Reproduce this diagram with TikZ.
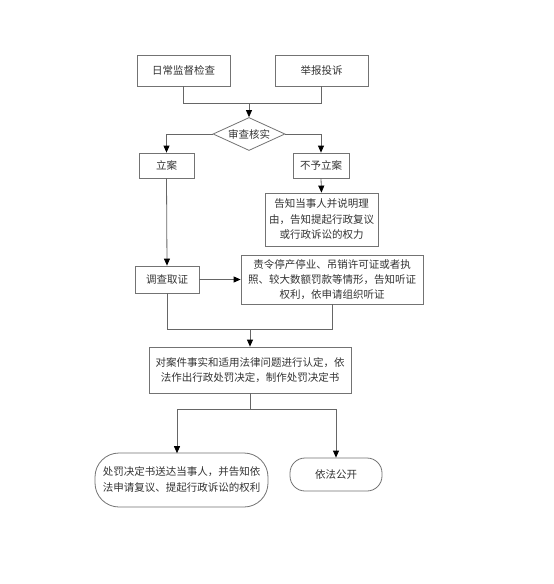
\documentclass[tikz,border=0pt]{standalone}
\usepackage{fontspec}
\newfontfamily\cjk{Noto Sans CJK SC}
\usetikzlibrary{shapes.geometric,arrows.meta}
\begin{document}
\begin{tikzpicture}[x=1pt,y=-1pt,
  box/.style={draw=black!55,line width=0.8pt,rectangle,inner sep=0pt,align=center,
     font=\cjk\fontsize{10.5}{15.5}\selectfont,text=black!80},
  rbox/.style={box,rounded corners=16pt},
  conn/.style={draw=black!60,line width=0.8pt},
  arr/.style={conn,-{Triangle[length=7pt,width=6pt,fill=black,color=black]}}]
\useasboundingbox (0,0) rectangle (554,584);
\fill[white] (0,0) rectangle (554,584);
\node[box,minimum width=93pt,minimum height=31pt] (n1) at (183.5,70.5) {日常监督检查};
\node[box,minimum width=93pt,minimum height=31pt] (n2) at (321.5,70.5) {举报投诉};
\node[box,shape=diamond,aspect=2.2,minimum width=72pt,minimum height=33pt] (dia) at (249,134) {审查核实};
\node[box,minimum width=55pt,minimum height=25pt] (la) at (166.5,165.5) {立案};
\node[box,minimum width=56pt,minimum height=25pt] (bu) at (321,165.5) {不予立案};
\node[box,minimum width=113pt,minimum height=53pt] (gz) at (321.5,219.5) {告知当事人并说明理\\由，告知提起行政复议\\或行政诉讼的权力};
\node[box,minimum width=64pt,minimum height=27pt] (dc) at (167,279.5) {调查取证};
\node[box,minimum width=182pt,minimum height=49pt,font=\cjk\fontsize{10.5}{15}\selectfont] (zl) at (332,279.5) {责令停产停业、吊销许可证或者执\\照、较大数额罚款等情形，告知听证\\权利，依申请组织听证};
\node[box,minimum width=202pt,minimum height=46pt,font=\cjk\fontsize{10.5}{15}\selectfont] (dj) at (250,370) {对案件事实和适用法律问题进行认定，依\\法作出行政处罚决定，制作处罚决定书};
\node[rbox,rounded corners=24pt,minimum width=173pt,minimum height=54pt,font=\cjk\fontsize{10.5}{16}\selectfont] (cf) at (181.5,480) {处罚决定书送达当事人，并告知依\\法申请复议、提起行政诉讼的权利};
\node[rbox,rounded corners=15pt,minimum width=92pt,minimum height=33pt] (gk) at (336,474.5) {依法公开};
% merge top
\coordinate (m1) at (183.5,103);
\coordinate (m2) at (321.5,103);
\coordinate (m0) at (249,103);
\draw[conn] (n1.south) -- (m1) -- (m2) -- (n2.south);
\draw[arr] (m0) -- (dia.north);
\draw[arr] (dia.west) -| (la.north);
\draw[arr] (dia.east) -| (bu.north);
\draw[arr] (bu.south) -- (gz.north);
\draw[arr] (la.south) -- (dc.north);
\draw[arr] (dc.east) -- (zl.west);
% merge middle
\coordinate (p1) at (167,329);
\coordinate (p2) at (332,329);
\coordinate (p0) at (250,329);
\draw[conn] (dc.south) -- (p1) -- (p2) -- (zl.south);
\draw[arr] (p0) -- (dj.north);
% split bottom
\coordinate (q0) at (250,409);
\coordinate (q1) at (177,409);
\coordinate (q2) at (336,409);
\draw[conn] (dj.south) -- (q0);
\draw[conn] (q1) -- (q2);
\draw[arr] (q1) -- (177,453.2);
\draw[arr] (q2) -- (gk.north);
\end{tikzpicture}
\end{document}
